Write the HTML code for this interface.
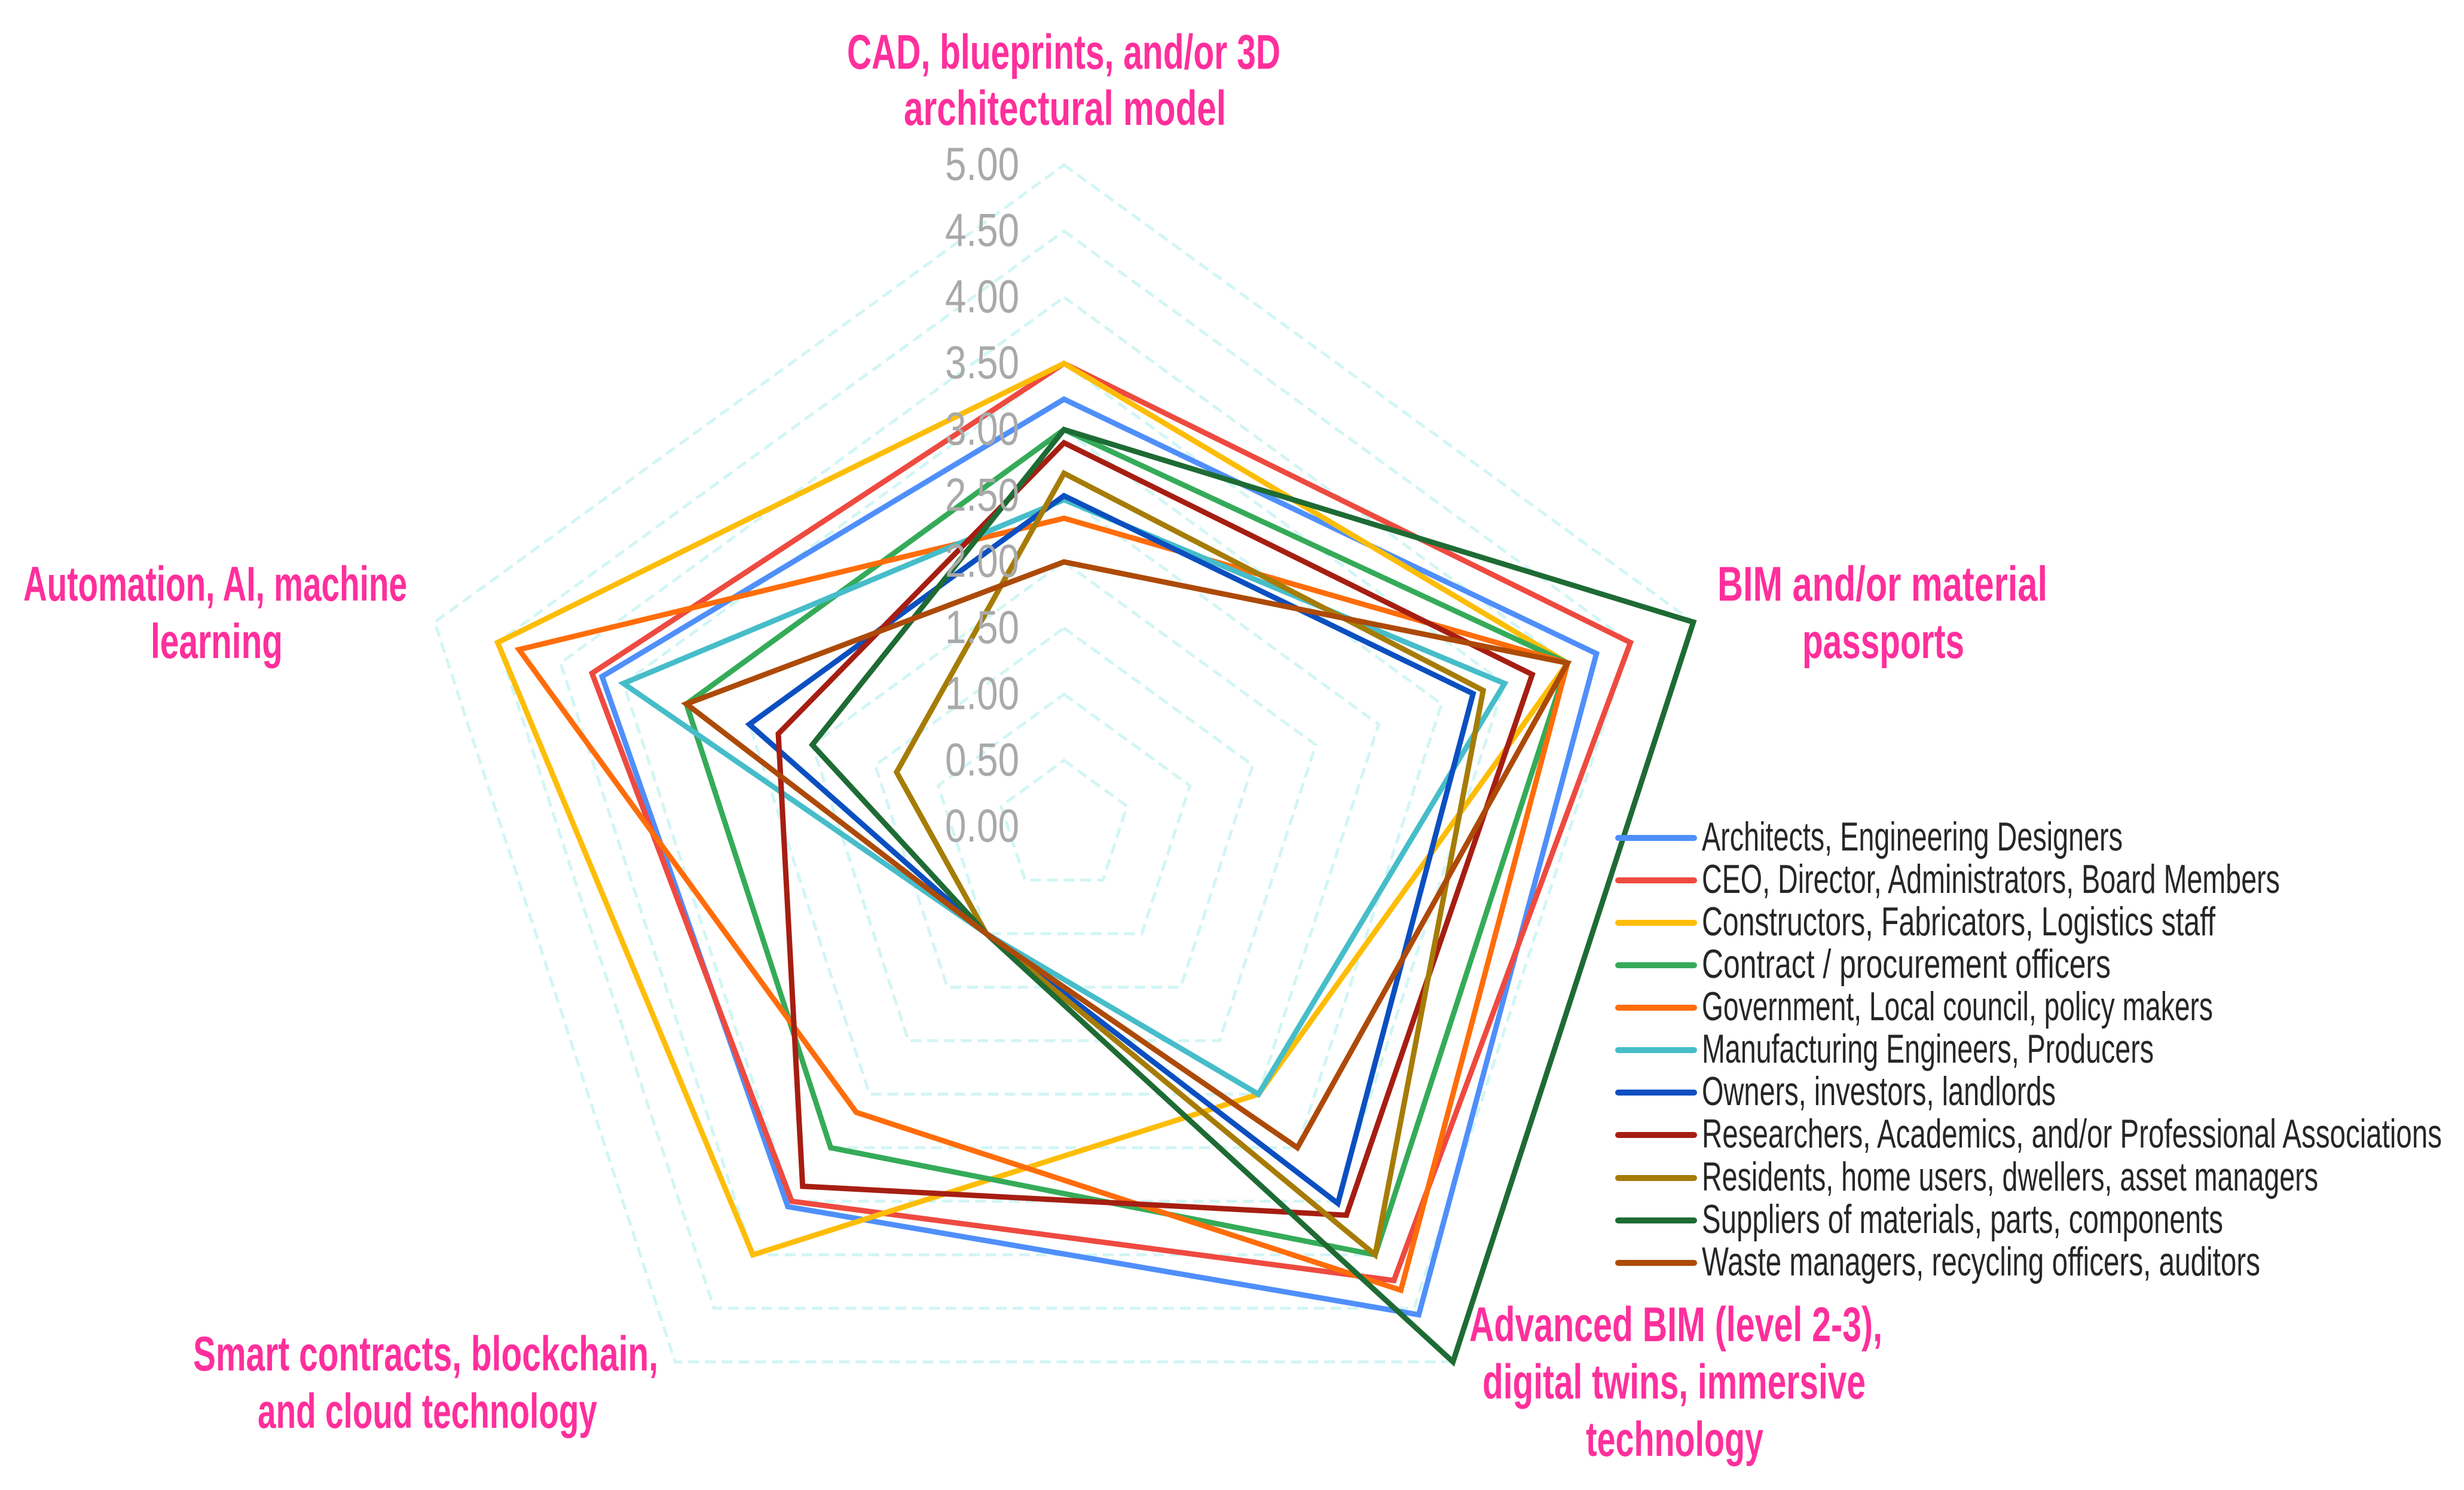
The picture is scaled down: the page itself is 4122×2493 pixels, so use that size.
<!DOCTYPE html>
<html lang="en">
<head>
<meta charset="utf-8">
<title>Radar chart of digital technologies by stakeholder group</title>
<style>
  html, body { margin: 0; padding: 0; background: #fff; }
  svg { display: block; }
  text { font-family: "Liberation Sans", sans-serif; }
  .axis-title { font-size: 82px; font-weight: bold; fill: #ff2f9c; }
  .legend-text { font-size: 68px; fill: #262626; }
  .tick { font-size: 78px; fill: #a9a9a9; text-anchor: end; dominant-baseline: central; }
  .ring { fill: none; stroke: #d2f5f5; stroke-width: 5; stroke-dasharray: 18 10; }
  .series { fill: none; stroke-width: 9; stroke-linejoin: miter; stroke-miterlimit: 10; }
  .key { stroke-width: 10; stroke-linecap: round; }
  .s0 { stroke: #4f8ffa; }
  .s1 { stroke: #ee4a40; }
  .s2 { stroke: #fdbd07; }
  .s3 { stroke: #35ab59; }
  .s4 { stroke: #ff6d0a; }
  .s5 { stroke: #46bdc9; }
  .s6 { stroke: #0b4fc0; }
  .s7 { stroke: #a61e12; }
  .s8 { stroke: #a67c06; }
  .s9 { stroke: #1e6b34; }
  .s10 { stroke: #ad4a08; }
</style>
</head>
<body>
<svg id="chart" xmlns="http://www.w3.org/2000/svg" width="4122" height="2493" viewBox="0 0 4122 2493">
  <rect x="0" y="0" width="4122" height="2493" fill="#ffffff"/>
  <g id="rings"></g>
  <g id="marks"></g>
  <g id="ticks"></g>

  <g>
    <text class="axis-title" x="1417" y="115" textLength="725" lengthAdjust="spacingAndGlyphs">CAD, blueprints, and/or 3D</text>
    <text class="axis-title" x="1512" y="209" textLength="539" lengthAdjust="spacingAndGlyphs">architectural model</text>

    <text class="axis-title" x="2873" y="1005" textLength="552" lengthAdjust="spacingAndGlyphs">BIM and/or material</text>
    <text class="axis-title" x="3015" y="1101" textLength="271" lengthAdjust="spacingAndGlyphs">passports</text>

    <text class="axis-title" x="2458" y="2244" textLength="691" lengthAdjust="spacingAndGlyphs">Advanced BIM (level 2-3),</text>
    <text class="axis-title" x="2480" y="2340" textLength="641" lengthAdjust="spacingAndGlyphs">digital twins, immersive</text>
    <text class="axis-title" x="2653" y="2436" textLength="297" lengthAdjust="spacingAndGlyphs">technology</text>

    <text class="axis-title" x="323" y="2293" textLength="778" lengthAdjust="spacingAndGlyphs">Smart contracts, blockchain,</text>
    <text class="axis-title" x="431" y="2389" textLength="568" lengthAdjust="spacingAndGlyphs">and cloud technology</text>

    <text class="axis-title" x="39" y="1005" textLength="642" lengthAdjust="spacingAndGlyphs">Automation, AI, machine</text>
    <text class="axis-title" x="252" y="1101" textLength="221" lengthAdjust="spacingAndGlyphs">learning</text>
  </g>

  <g>
    <g>
      <line class="key s0" x1="2707" y1="1402" x2="2834" y2="1402"/>
      <text class="legend-text" x="2847" y="1423" textLength="704" lengthAdjust="spacingAndGlyphs">Architects, Engineering Designers</text>
    </g>
    <g>
      <line class="key s1" x1="2707" y1="1473" x2="2834" y2="1473"/>
      <text class="legend-text" x="2847" y="1494" textLength="967" lengthAdjust="spacingAndGlyphs">CEO, Director, Administrators, Board Members</text>
    </g>
    <g>
      <line class="key s2" x1="2707" y1="1544" x2="2834" y2="1544"/>
      <text class="legend-text" x="2847" y="1565" textLength="859" lengthAdjust="spacingAndGlyphs">Constructors, Fabricators, Logistics staff</text>
    </g>
    <g>
      <line class="key s3" x1="2707" y1="1615" x2="2834" y2="1615"/>
      <text class="legend-text" x="2847" y="1636" textLength="684" lengthAdjust="spacingAndGlyphs">Contract / procurement officers</text>
    </g>
    <g>
      <line class="key s4" x1="2707" y1="1686" x2="2834" y2="1686"/>
      <text class="legend-text" x="2847" y="1707" textLength="855" lengthAdjust="spacingAndGlyphs">Government, Local council, policy  makers</text>
    </g>
    <g>
      <line class="key s5" x1="2707" y1="1757" x2="2834" y2="1757"/>
      <text class="legend-text" x="2847" y="1778" textLength="756" lengthAdjust="spacingAndGlyphs">Manufacturing Engineers, Producers</text>
    </g>
    <g>
      <line class="key s6" x1="2707" y1="1828" x2="2834" y2="1828"/>
      <text class="legend-text" x="2847" y="1849" textLength="592" lengthAdjust="spacingAndGlyphs">Owners, investors, landlords</text>
    </g>
    <g>
      <line class="key s7" x1="2707" y1="1899" x2="2834" y2="1899"/>
      <text class="legend-text" x="2847" y="1920" textLength="1238" lengthAdjust="spacingAndGlyphs">Researchers, Academics, and/or Professional Associations</text>
    </g>
    <g>
      <line class="key s8" x1="2707" y1="1971" x2="2834" y2="1971"/>
      <text class="legend-text" x="2847" y="1992" textLength="1031" lengthAdjust="spacingAndGlyphs">Residents, home users, dwellers, asset managers</text>
    </g>
    <g>
      <line class="key s9" x1="2707" y1="2042" x2="2834" y2="2042"/>
      <text class="legend-text" x="2847" y="2063" textLength="872" lengthAdjust="spacingAndGlyphs">Suppliers of materials, parts, components</text>
    </g>
    <g>
      <line class="key s10" x1="2707" y1="2113" x2="2834" y2="2113"/>
      <text class="legend-text" x="2847" y="2134" textLength="934" lengthAdjust="spacingAndGlyphs">Waste managers, recycling officers, auditors</text>
    </g>
  </g>
</svg>

<script>
// Axis order: CAD, BIM passports, Advanced BIM, Smart contracts, Automation
const architects   = [3.23, 4.23, 4.56, 3.55, 3.67];
const ceo          = [3.50, 4.50, 4.24, 3.50, 3.75];
const constructors = [3.50, 4.00, 2.50, 4.00, 4.50];
const contract     = [3.00, 4.00, 4.00, 3.00, 3.00];
const government   = [2.33, 4.00, 4.33, 2.67, 4.33];
const manufacturing = [2.47, 3.50, 2.50, 1.00, 3.50];
const owners       = [2.50, 3.25, 3.52, 1.00, 2.50];
const researchers  = [2.90, 3.72, 3.63, 3.36, 2.27];
const residents    = [2.67, 3.33, 4.00, 1.00, 1.33];
const suppliers    = [3.00, 5.00, 5.00, 1.00, 2.00];
const waste        = [2.00, 4.00, 3.00, 1.00, 3.00];
const tickValues   = [0, 0.5, 1, 1.5, 2, 2.5, 3, 3.5, 4, 4.5, 5];

const seriesList = [architects, ceo, constructors, contract, government, manufacturing, owners, researchers, residents, suppliers, waste];
const seriesNames = ['architects', 'ceo', 'constructors', 'contract', 'government', 'manufacturing', 'owners', 'researchers', 'residents', 'suppliers', 'waste'];

const SVG_NS = 'http://www.w3.org/2000/svg';
const centerX = 1780;
const centerY = 1383;
const radiusPerUnit = 221.4;
const axisCount = 5;

function pointX(axisIndex, value) {
  return centerX + Math.sin(axisIndex * 2 * Math.PI / axisCount) * value * radiusPerUnit;
}
function pointY(axisIndex, value) {
  return centerY - Math.cos(axisIndex * 2 * Math.PI / axisCount) * value * radiusPerUnit;
}
function polygonPoints(values) {
  return values.map(function (v, i) {
    return pointX(i, v).toFixed(1) + ',' + pointY(i, v).toFixed(1);
  }).join(' ');
}

const ringLayer = document.getElementById('rings');
tickValues.forEach(function (tick) {
  if (tick === 0) return;
  const ring = document.createElementNS(SVG_NS, 'polygon');
  ring.setAttribute('class', 'ring');
  ring.setAttribute('points', polygonPoints(new Array(axisCount).fill(tick)));
  
  
  ringLayer.appendChild(ring);
});

const markLayer = document.getElementById('marks');
seriesList.forEach(function (values, s) {
  const poly = document.createElementNS(SVG_NS, 'polygon');
  poly.setAttribute('class', 'series s' + s);
  poly.setAttribute('points', polygonPoints(values));
  
  
  markLayer.appendChild(poly);
});

const tickLayer = document.getElementById('ticks');
tickValues.forEach(function (tick) {
  const label = document.createElementNS(SVG_NS, 'text');
  label.setAttribute('class', 'tick');
  label.setAttribute('x', 1705);
  label.setAttribute('y', (pointY(0, tick) - 2).toFixed(1));
  label.setAttribute('textLength', 124);
  label.setAttribute('lengthAdjust', 'spacingAndGlyphs');
  
  
  label.textContent = tick.toFixed(2);
  tickLayer.appendChild(label);
});
</script>
</body>
</html>
